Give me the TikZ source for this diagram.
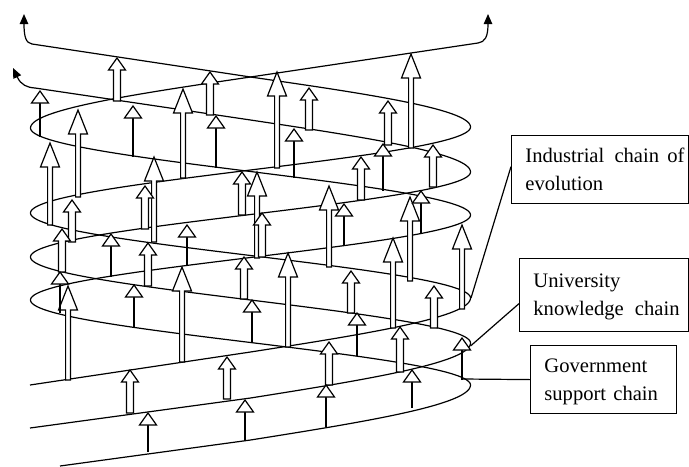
\documentclass[tikz,border=0pt]{standalone}
\usepackage{fontspec}
\setmainfont{Liberation Serif}
\usetikzlibrary{arrows.meta}
\newcommand{\thinA}[3]{%
  \draw[thinshaft] (#1,#3) -- (#1,#2+12);
  \draw[ahead] (#1,#2) -- (#1+8.5,#2+12) -- (#1-8.5,#2+12) -- cycle;}
\newcommand{\longA}[3]{%
  \draw[ahead] (#1,#2) -- (#1+9.5,#2+24) -- (#1+2.4,#2+24) -- (#1+2.4,#3) -- (#1-2.4,#3) -- (#1-2.4,#2+24) -- (#1-9.5,#2+24) -- cycle;}
\newcommand{\blockA}[3]{%
  \draw[ahead] (#1,#2) -- (#1+8.5,#2+12) -- (#1+3.5,#2+12) -- (#1+3.5,#3) -- (#1-3.5,#3) -- (#1-3.5,#2+12) -- (#1-8.5,#2+12) -- cycle;}
\begin{document}
\begin{tikzpicture}[x=0.5pt,y=-0.5pt,
  curve/.style={line width=0.6pt, black, line join=round},
  endarrow/.style={line width=0.6pt, -{Triangle[length=5pt,width=4.2pt]}},
  lbox/.style={draw, line width=0.6pt, inner sep=0pt, anchor=north west},
  ltext/.style={anchor=base west, inner sep=0pt, font=\fontsize{10.3pt}{14pt}\selectfont},
  leader/.style={line width=0.6pt},
  ahead/.style={draw, fill=white, line width=0.6pt, line join=miter},
  thinshaft/.style={line width=1pt}
]
\useasboundingbox (0,0) rectangle (689,466);
\clip (0,0) rectangle (689,466);

% Government support chain (L1)
\draw[curve] (60,466) -- (250.5,440)
  -- plot[domain=90:180,samples=40,variable=\t] ({250.5-220*cos(\t)},{495-110*(\t/180)})
  -- plot[domain=0:180,samples=80,variable=\t] ({250.5+220*cos(\t)},{385-85*(\t/180)})
  -- plot[domain=0:180,samples=80,variable=\t] ({250.5-220*cos(\t)},{300-85*(\t/180)})
  -- plot[domain=0:180,samples=80,variable=\t] ({250.5+220*cos(\t)},{215-87*(\t/180)})
  -- plot[domain=0:90,samples=40,variable=\t] ({250.5-220*cos(\t)},{128-102*(\t/180)})
  -- (478,43);
\draw[endarrow] (478,43) .. controls (485,42) and (488,37) .. (488,14);

% University knowledge chain (L2)
\draw[curve] (30,428) -- (250.5,398)
  -- plot[domain=90:180,samples=40,variable=\t] ({250.5-220*cos(\t)},{453-110*(\t/180)})
  -- plot[domain=0:180,samples=80,variable=\t] ({250.5+220*cos(\t)},{343-86*(\t/180)})
  -- plot[domain=0:180,samples=80,variable=\t] ({250.5-220*cos(\t)},{257-85*(\t/180)})
  -- plot[domain=0:90,samples=40,variable=\t] ({250.5+220*cos(\t)},{172-104*(\t/180)})
  -- (35,88);
\draw[endarrow] (35,88) .. controls (27,87.5) and (21,85) .. (13,68);

% Industrial chain of evolution (L3)
\draw[curve] (30,385) -- (250.5,352)
  -- plot[domain=90:180,samples=40,variable=\t] ({250.5-220*cos(\t)},{406-108*(\t/180)})
  -- plot[domain=0:180,samples=80,variable=\t] ({250.5+220*cos(\t)},{298-85*(\t/180)})
  -- plot[domain=0:180,samples=80,variable=\t] ({250.5-220*cos(\t)},{213-86*(\t/180)})
  -- plot[domain=0:90,samples=40,variable=\t] ({250.5+220*cos(\t)},{127-100*(\t/180)})
  -- (32,44);
\draw[endarrow] (32,44) .. controls (26,43) and (24,37) .. (24,14);

% long arrows
\longA{78}{110}{197}
\longA{183}{89}{178}
\longA{50}{143}{225}
\longA{154}{157}{242}
\longA{68}{286}{380}
\longA{182}{267}{362}
\longA{277}{72}{168}
\longA{411}{54}{148}
\longA{257}{172}{258}
\longA{329}{186}{267}
\longA{410}{197}{281}
\longA{462}{225}{309}
\longA{288}{253}{347}
\longA{393}{238}{328}

% block arrows
\blockA{117}{58}{101}
\blockA{210}{72}{115}
\blockA{72}{200}{242}
\blockA{145}{186}{229}
\blockA{242}{172}{215}
\blockA{62}{229}{272}
\blockA{148}{243}{286}
\blockA{244}{257}{299}
\blockA{130}{370}{413}
\blockA{227}{357}{399}
\blockA{309}{88}{130}
\blockA{388}{101}{145}
\blockA{433}{145}{187}
\blockA{262}{213}{257}
\blockA{361}{157}{200}
\blockA{351}{271}{313}
\blockA{434}{286}{328}
\blockA{329}{342}{385}
\blockA{400}{327}{372}

% thin arrows
\thinA{40}{91}{137}
\thinA{133}{106}{157}
\thinA{216}{116}{168}
\thinA{111}{234}{277}
\thinA{187}{225}{266}
\thinA{60}{272}{313}
\thinA{134}{285}{328}
\thinA{148}{413}{452}
\thinA{245}{400}{441}
\thinA{294}{129}{178}
\thinA{383}{144}{191}
\thinA{344}{204}{246}
\thinA{421}{191}{234}
\thinA{252}{300}{342}
\thinA{357}{313}{356}
\thinA{326}{385}{427}
\thinA{412}{370}{408}
\thinA{462}{338}{380}

% label boxes
\node[lbox, minimum width=88.5pt, minimum height=34pt] (box1) at (511,135) {};
\node[lbox, minimum width=84.5pt, minimum height=36.5pt] (box2) at (519,258) {};
\node[lbox, minimum width=73pt, minimum height=34pt] (box3) at (530,345) {};

\node[ltext] (t1a) at (525,162) {Industrial \hspace{2.5pt}chain \hspace{1.5pt}of};
\node[ltext] (t1b) at (525,190) {evolution};
\node[ltext] (t2a) at (533,287) {University};
\node[ltext] (t2b) at (533,315) {knowledge \hspace{3pt}chain};
\node[ltext] (t3a) at (544,372) {Government};
\node[ltext] (t3b) at (544,400) {support \hspace{1pt}chain};

% leader lines
\coordinate (indtip) at (471,298);
\coordinate (unitip) at (470.5,346);
\coordinate (govpt) at (463,379);
\draw[leader] (indtip) -- ([yshift=1.5pt]box1.west);
\draw[leader] (unitip) -- ([yshift=-4.25pt]box2.west);
\draw[leader] (govpt) -- (box3.west);
\end{tikzpicture}
\end{document}
